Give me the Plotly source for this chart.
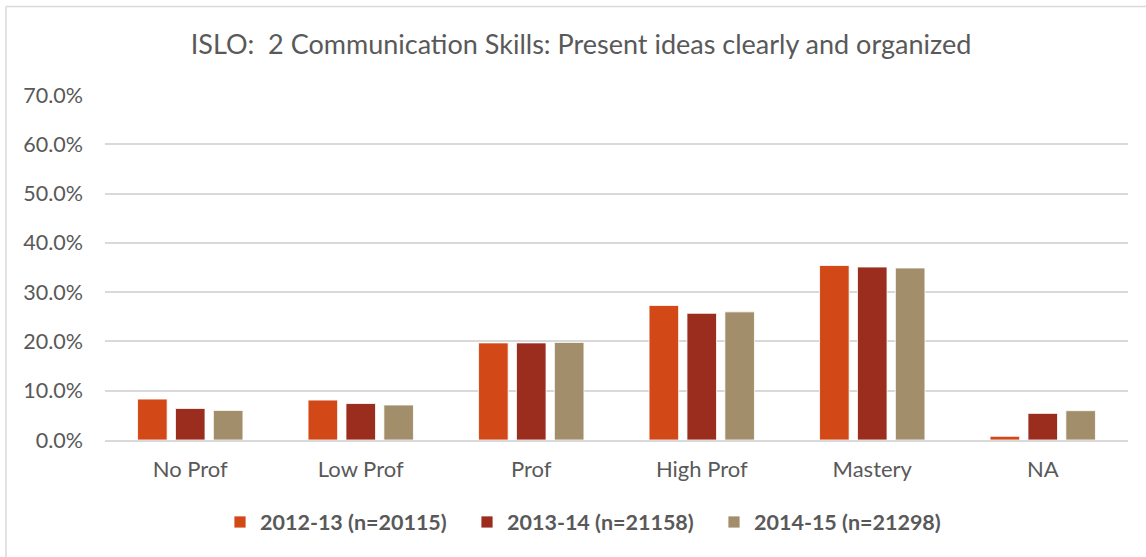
import plotly.graph_objects as go

categories = ["No Prof", "Low Prof", "Prof", "High Prof", "Mastery", "NA"]
series_names = ["2012-13 (n=20115)", "2013-14 (n=21158)", "2014-15 (n=21298)"]
values_2012 = [0.083, 0.081, 0.197, 0.273, 0.354, 0.0075]
values_2013 = [0.064, 0.074, 0.197, 0.257, 0.351, 0.054]
values_2014 = [0.060, 0.071, 0.198, 0.260, 0.349, 0.0595]
colors = ["#D34817", "#9B2D1F", "#A28E6A"]
y_ticks = [0, 0.1, 0.2, 0.3, 0.4, 0.5, 0.6, 0.7]

FONT = "Lato"
TXT = "#595959"

fig = go.Figure()
for name, vals, col in zip(series_names, [values_2012, values_2013, values_2014], colors):
    fig.add_trace(go.Bar(
        x=categories, y=vals, name=name,
        marker=dict(color=col, line=dict(color="white", width=0.8)),
    ))

W, H = 1146, 557
L, R, T, B = 105, 18, 95, 117
pw, ph = W - L - R, H - T - B

def px_x(x):
    return (x - L) / pw

def px_y(y):
    return (H - B - y) / ph

border = dict(color="#D9D9D9", width=1.5)
fig.add_shape(type="line", xref="paper", yref="paper",
              x0=px_x(6), x1=px_x(W), y0=px_y(6.5), y1=px_y(6.5), line=border)
fig.add_shape(type="line", xref="paper", yref="paper",
              x0=px_x(6), x1=px_x(6), y0=px_y(6.5), y1=px_y(H), line=border)

fig.update_layout(
    width=W, height=H,
    margin=dict(l=L, r=R, t=T, b=B, autoexpand=False),
    paper_bgcolor="white", plot_bgcolor="white",
    barmode="group", bargap=0.333, bargroupgap=0.22,
    font=dict(family=FONT, color=TXT, size=21.5),
    title=dict(text="ISLO:  2 Communication Skills: Present ideas clearly and organized",
               x=581 / W, xref="container", xanchor="center",
               y=1 - 45 / H, yref="container", yanchor="middle",
               font=dict(family=FONT, size=27, color=TXT)),
    legend=dict(orientation="h", x=px_x(220), xanchor="left",
                y=px_y(522), yanchor="middle",
                font=dict(family=FONT, size=21.5, color=TXT, weight="bold"),
                itemwidth=30, entrywidth=202, entrywidthmode="pixels",
                traceorder="normal", itemclick=False),
    showlegend=True,
)
fig.update_yaxes(range=[0, 0.7], tickvals=y_ticks, tickformat=".1%",
                 showgrid=True, gridcolor="#D9D9D9", gridwidth=1.5,
                 zeroline=False, showline=False, ticks="",
                 ticklabelstandoff=21, tickfont=dict(size=21.5, color=TXT))
fig.update_xaxes(showline=True, linecolor="#D9D9D9", linewidth=1.5,
                 ticks="", tickfont=dict(size=22, color=TXT),
                 ticklabelstandoff=9)

fig.write_html("out.html", config={"displayModeBar": False},
               post_script="document.body.style.margin='0';document.body.style.padding='0';")
